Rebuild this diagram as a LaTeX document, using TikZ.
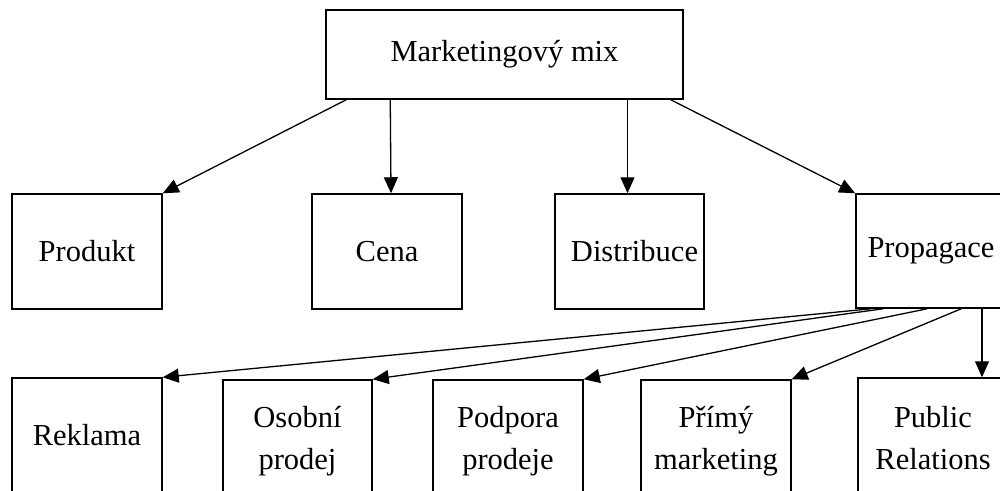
\documentclass[tikz,border=0pt]{standalone}
\usepackage{fontspec}
\setmainfont{Liberation Serif}
\usetikzlibrary{arrows.meta}
\begin{document}
\begin{tikzpicture}[x=1pt,y=-1pt,
  box/.style={draw,line width=1.5pt,minimum width=150pt,minimum height=115pt,inner sep=0pt,align=center,font=\fontsize{30.5}{42}\selectfont},
  two/.style={text height=#1,text depth=8pt},
  arr/.style={line width=1.3pt,-{Triangle[length=16pt,width=14pt]}}]
\useasboundingbox (0,0) rectangle (1000,490);
\clip (0,0) rectangle (1000,490);
% top
\node[box,minimum width=357pt,minimum height=89pt] (mix) at (504.5,54.5) {Marketingový mix};
% middle row
\node[box] (produkt) at (87,251.5) {Produkt};
\node[box] (cena) at (387,251.5) {Cena};
\node[box,minimum width=149pt] (distr) at (629.5,251.5) {\hspace*{10pt}Distribuce};
\node[box,minimum height=114pt] (prop) at (931,251) {Propagace};
% bottom row
\node[box] (rekl) at (87,435.5) {Reklama};
\node[box,two=71pt,minimum width=149pt] (osob) at (297.5,437.5) {Osobní\\prodej};
\node[box,two=71pt] (podp) at (508,437.5) {Podpora\\prodeje};
\node[box,two=71pt] (prim) at (716,437.5) {Přímý\\marketing};
\node[box,two=75pt] (pr) at (933,435.5) {Public\\Relations};
% connectors from top
\draw[arr] ([xshift=21pt]mix.south west) -- (produkt.north east);
\draw[arr] ([xshift=65pt]mix.south west) -- ([xshift=4pt]cena.north);
\draw[arr] ([xshift=-2pt]distr.north |- mix.south) -- ([xshift=-2pt]distr.north);
\draw[arr] ([xshift=-13pt]mix.south east) -- (prop.north west);
% connectors from Propagace
\draw[arr] ([xshift=16pt]prop.south west) -- (rekl.north east);
\draw[arr] ([xshift=28pt]prop.south west) -- (osob.north east);
\draw[arr] ([xshift=72pt]prop.south west) -- (podp.north east);
\draw[arr] ([xshift=106pt]prop.south west) -- (prim.north east);
\draw[arr] ([xshift=49pt]pr.north |- prop.south) -- ([xshift=49pt]pr.north);
\end{tikzpicture}
\end{document}
